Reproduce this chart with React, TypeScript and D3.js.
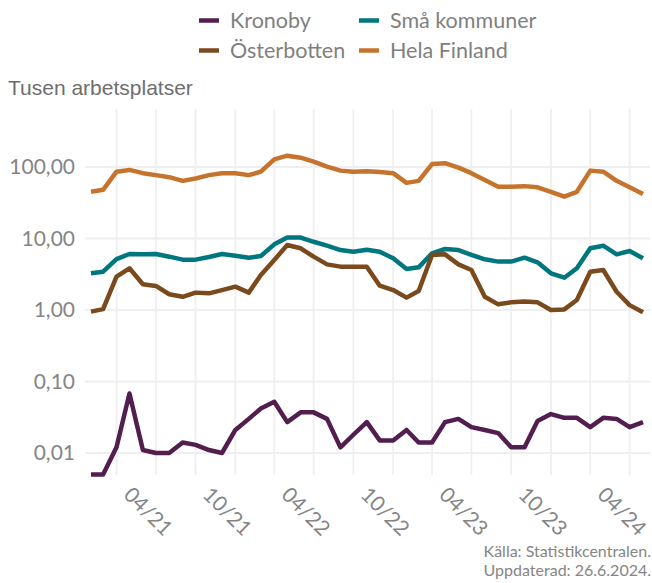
import React from "react";
import * as d3 from "d3";

const startMonth = "2021-02";
const kronoby = [0.005, 0.005, 0.012, 0.068, 0.011, 0.010, 0.010, 0.014, 0.013, 0.011, 0.010, 0.021, 0.030, 0.042, 0.052, 0.027, 0.037, 0.037, 0.030, 0.012, 0.018, 0.027, 0.015, 0.015, 0.021, 0.014, 0.014, 0.027, 0.030, 0.023, 0.021, 0.019, 0.012, 0.012, 0.028, 0.035, 0.031, 0.031, 0.023, 0.031, 0.030, 0.023, 0.027];
const smaKommuner = [3.26, 3.43, 5.16, 6.07, 6.0, 6.07, 5.57, 5.06, 5.06, 5.51, 6.07, 5.75, 5.39, 5.69, 8.28, 10.3, 10.3, 9.0, 7.93, 6.9, 6.54, 6.97, 6.54, 5.28, 3.74, 3.95, 6.21, 7.13, 6.9, 5.9, 5.12, 4.75, 4.75, 5.39, 4.65, 3.26, 2.83, 3.83, 7.3, 7.93, 6.01, 6.69, 5.28];
const osterbotten = [0.95, 1.03, 2.92, 3.83, 2.29, 2.17, 1.66, 1.53, 1.75, 1.71, 1.9, 2.12, 1.75, 3.09, 5.0, 8.1, 7.3, 5.57, 4.35, 4.04, 4.04, 4.04, 2.19, 1.9, 1.49, 1.84, 5.88, 6.0, 4.35, 3.62, 1.53, 1.2, 1.28, 1.31, 1.28, 1.0, 1.02, 1.38, 3.43, 3.62, 1.8, 1.17, 0.93];
const helaFinland = [45, 48, 86, 91, 82, 77, 72, 64, 69, 77, 82, 82, 77, 86, 128, 144, 135, 119, 101, 89, 86, 87, 85, 82, 60, 64, 110, 113, 98, 82, 66, 53, 53, 54, 52, 45, 38.5, 45, 89, 86, 64, 52, 42];

const seriesNames = ["Kronoby", "Små kommuner", "Österbotten", "Hela Finland"];
const seriesColors = ["#521d4f", "#00777f", "#7b4a1c", "#c6742d"];
const yTicks = [0.01, 0.1, 1, 10, 100];
const yTickLabels = ["0,01", "0,10", "1,00", "10,00", "100,00"];
const xTickLabels = ["04/21", "10/21", "04/22", "10/22", "04/23", "10/23", "04/24"];

const W = 652;
const H = 583;
const panel = { left: 85, right: 650, top: 109, bottom: 475 };

export default function App() {
  const parse = d3.timeParse("%Y-%m");
  const start = parse(startMonth) as Date;
  const dates = kronoby.map((_, i) => d3.timeMonth.offset(start, i));
  const x = d3
    .scaleTime()
    .domain([dates[0], dates[dates.length - 1]])
    .range([91, 643]);
  const y = d3.scaleLog().domain([0.01, 100]).range([453, 167]);

  const allSeries = [kronoby, smaKommuner, osterbotten, helaFinland];
  const line = d3
    .line<number>()
    .x((_, i) => x(dates[i]))
    .y((d) => y(d));

  const gridDates = d3.timeMonth
    .every(3)!
    .range(new Date(2021, 3, 1), new Date(2024, 7, 2));
  const fmt = d3.timeFormat("%m/%y");
  const majorDates = gridDates.filter((d) => xTickLabels.includes(fmt(d)));

  const legendItems = [
    { name: seriesNames[0], color: seriesColors[0], x: 199, y: 20.5 },
    { name: seriesNames[1], color: seriesColors[1], x: 359, y: 20.5 },
    { name: seriesNames[2], color: seriesColors[2], x: 199, y: 50.5 },
    { name: seriesNames[3], color: seriesColors[3], x: 359, y: 50.5 },
  ];

  return (
    <svg
      width={W}
      height={H}
      style={{ position: "absolute", left: 0, top: 0, background: "#fff" }}
      fontFamily="Lato, sans-serif"
    >
      <rect width={W} height={H} fill="#fff" />
      {gridDates.map((d, i) => (
        <line
          key={"gx" + i}
          x1={x(d)}
          x2={x(d)}
          y1={panel.top}
          y2={panel.bottom}
          stroke="#efefef"
          strokeWidth={1.8}
        />
      ))}
      {yTicks.map((t, i) => (
        <line
          key={"gy" + i}
          x1={panel.left}
          x2={panel.right}
          y1={y(t)}
          y2={y(t)}
          stroke="#efefef"
          strokeWidth={1.8}
        />
      ))}
      {yTicks.map((t, i) => (
        <text
          key={"yl" + i}
          x={75}
          y={y(t)}
          dy="0.35em"
          textAnchor="end"
          fontSize={21}
          fill="#858585"
        >
          {yTickLabels[i]}
        </text>
      ))}
      {majorDates.map((d, i) => (
        <text
          key={"xl" + i}
          transform={`translate(${x(d) + 6},${496}) rotate(45)`}
          fontSize={21}
          fill="#858585"
        >
          {fmt(d)}
        </text>
      ))}
      {allSeries.map((s, k) => (
        <path
          key={"s" + k}
          d={line(s) || ""}
          fill="none"
          stroke={seriesColors[k]}
          strokeWidth={4.5}
          strokeLinejoin="round"
        />
      ))}
      <text
        x={8}
        y={95}
        fontFamily="'Liberation Sans', Arial, sans-serif"
        fontSize={21}
        fill="#6e6e6e"
      >
        Tusen arbetsplatser
      </text>
      {legendItems.map((it, i) => (
        <g key={"lg" + i}>
          <line
            x1={it.x}
            x2={it.x + 20}
            y1={it.y}
            y2={it.y}
            stroke={it.color}
            strokeWidth={4.5}
          />
          <text
            x={it.x + 31}
            y={it.y}
            dy="0.35em"
            fontSize={21.5}
            fill="#808080"
          >
            {it.name}
          </text>
        </g>
      ))}
      <text x={651} y={556.5} textAnchor="end" fontSize={16} fill="#858585">
        Källa: Statistikcentralen.
      </text>
      <text x={651} y={575.5} textAnchor="end" fontSize={16} fill="#858585">
        Uppdaterad: 26.6.2024.
      </text>
    </svg>
  );
}
